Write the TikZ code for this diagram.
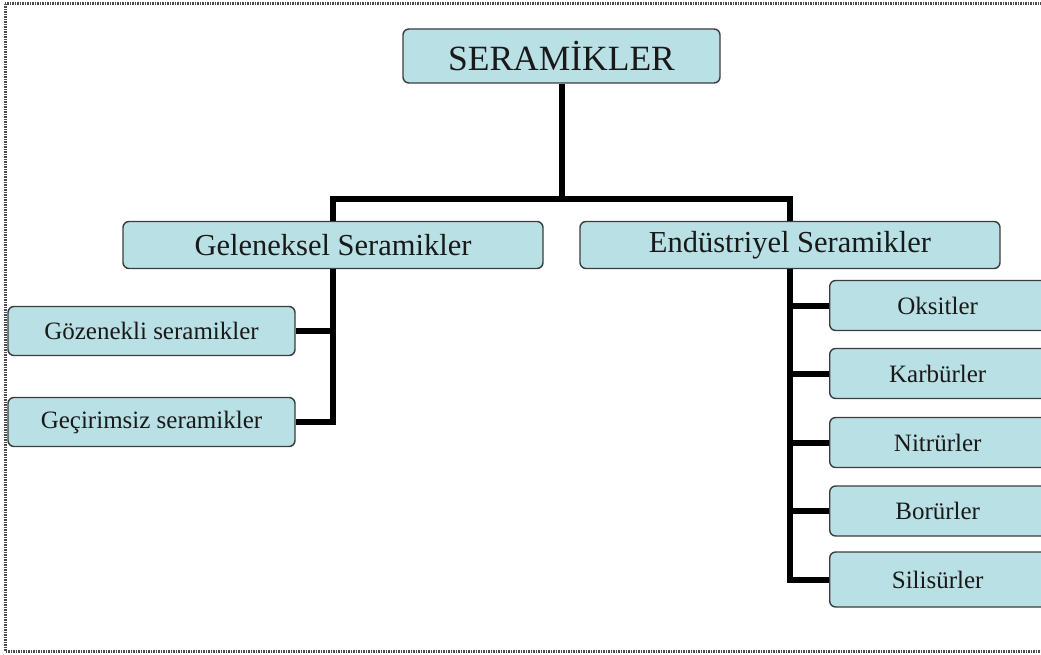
\documentclass[tikz,border=0pt]{standalone}
\usepackage{fontspec}
\setmainfont{Liberation Serif}
\usetikzlibrary{positioning}
\definecolor{boxfill}{HTML}{B9E0E4}
\definecolor{boxline}{HTML}{3C3C3C}

\begin{document}
\begin{tikzpicture}[x=1pt,y=-1pt,
  box/.style={draw=boxline,fill=boxfill,line width=1.4pt,rounded corners=6pt,
    inner sep=0pt,text=black!90},
  topbox/.style={box,minimum width=317pt,minimum height=54pt,font=\fontsize{35.5}{38}\selectfont},
  midbox/.style={box,minimum width=420pt,minimum height=47pt,font=\fontsize{30.5}{33}\selectfont},
  leafbox/.style={box,minimum width=287pt,minimum height=49pt,font=\fontsize{25}{28}\selectfont},
  rightbox/.style={box,minimum width=300pt,minimum height=50pt,font=\fontsize{25}{28}\selectfont},
  link/.style={line width=6pt}]
  \useasboundingbox (0,0) rectangle (1041,655);
  \clip (0,0) rectangle (1041,655);
  \draw[dash pattern=on 1.5pt off 1pt,line width=3pt,black!70] (5,4) rectangle (1070,651);

  \node[topbox](seram) at (561.5,56) {SERAMİKLER};
  \node[midbox](gelen) at (333,245) {Geleneksel Seramikler};
  \node[midbox](endus) at (790,245) {Endüstriyel Seramikler};
  \node[leafbox](gozen) at (151.5,331) {Gözenekli seramikler};
  \node[leafbox](gecir) at (151.5,422) {Geçirimsiz seramikler};
  \node[rightbox,anchor=west](oksit) at (829,305.5) {\hspace*{-84pt}Oksitler};
  \node[rightbox,anchor=west](karbur) at (829,373.5) {\hspace*{-84pt}Karbürler};
  \node[rightbox,anchor=west](nitrur) at (829,442.5) {\hspace*{-84pt}Nitrürler};
  \node[rightbox,anchor=west](borur) at (829,511) {\hspace*{-84pt}Borürler};
  \node[rightbox,anchor=west,minimum height=55pt](silis) at (829,579.5) {\hspace*{-84pt}Silisürler};

  \coordinate (split) at (561.5,199);
  \draw[link] (seram.south)--(split);
  \draw[link] (gelen.north) |- (split) -| (endus.north);
  % left branch
  \draw[link] (gelen.south) |- (gecir.east);
  \draw[link] (gozen.east)--(gozen.east -| gelen.south);
  % right branch
  \draw[link] (endus.south) |- (silis.west);
  \foreach \n in {oksit,karbur,nitrur,borur}
    \draw[link] (\n.west)--(\n.west -| endus.south);
\end{tikzpicture}
\end{document}
